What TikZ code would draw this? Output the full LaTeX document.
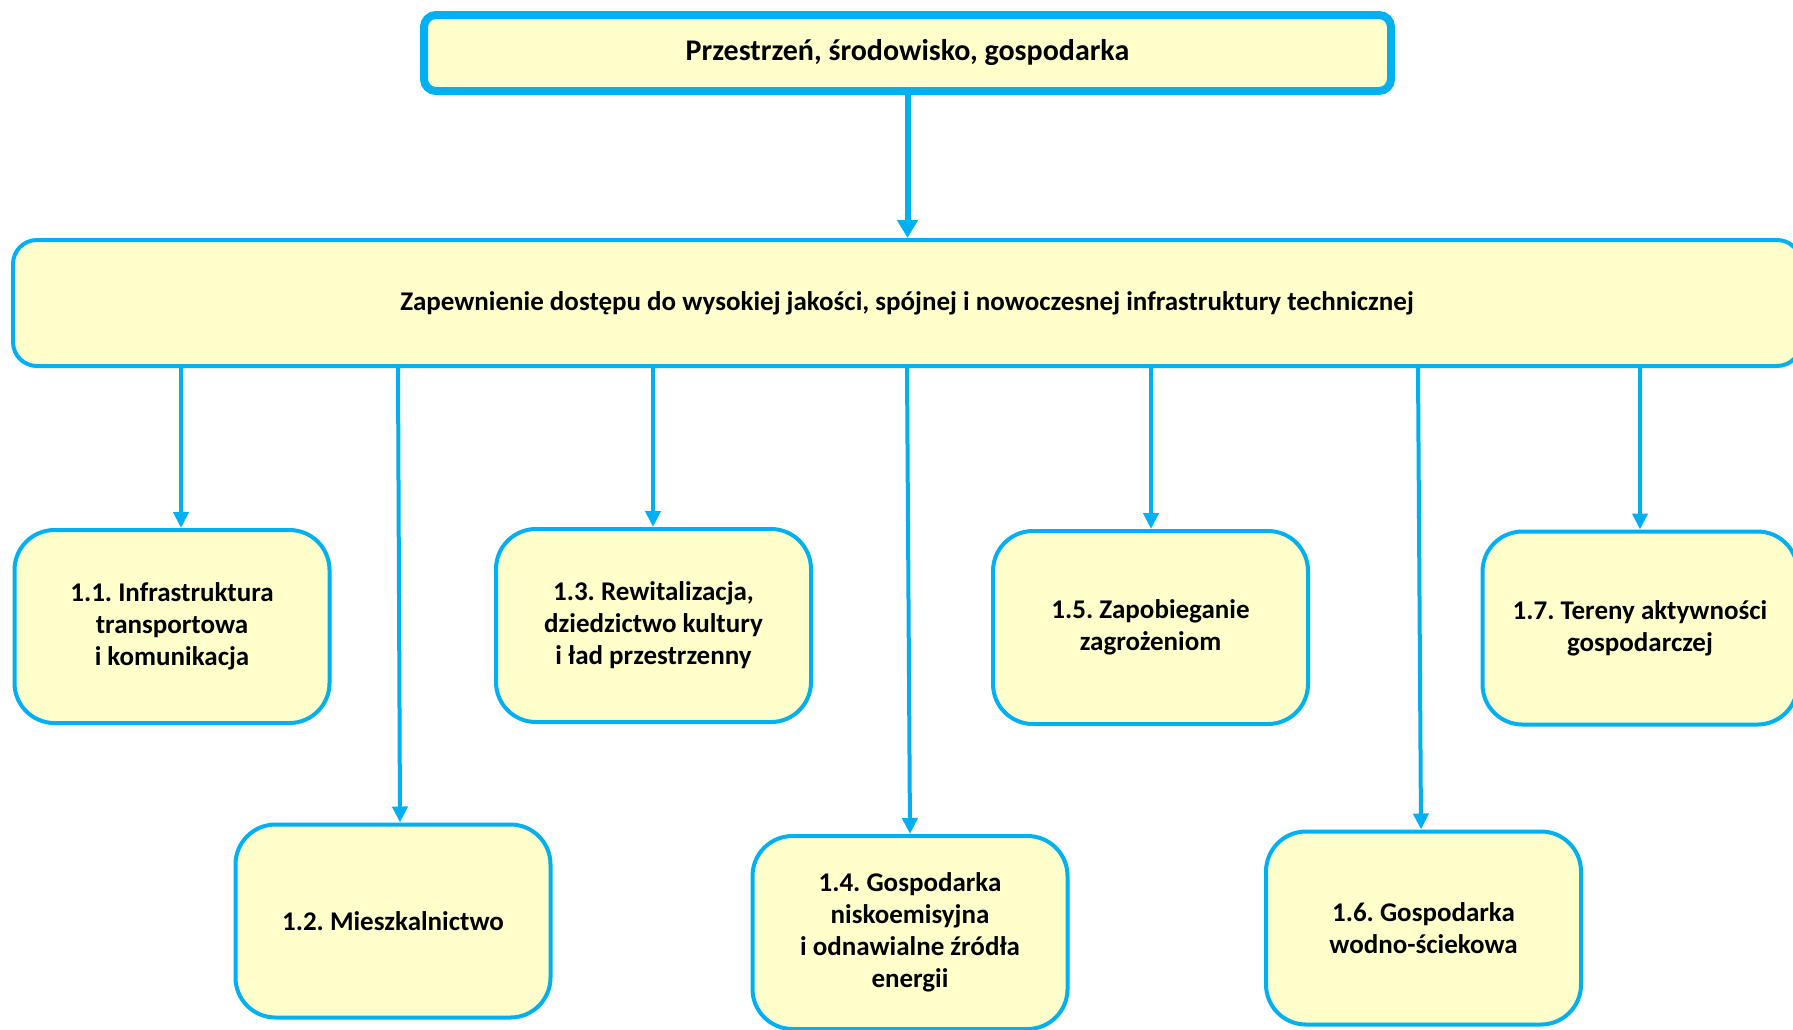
\documentclass[tikz,border=0pt]{standalone}
\usepackage{fontspec}
\setmainfont{Carlito}
\frenchspacing
\usetikzlibrary{arrows.meta}
\definecolor{ramka}{HTML}{00B0F0}
\definecolor{tlo}{HTML}{FFFFCC}
\tikzset{
  pole/.style={draw=ramka, fill=tlo, line width=2pt, rounded corners=20pt,
    minimum width=157.5pt, minimum height=96.5pt, inner sep=0pt, align=center,
    font=\bfseries\fontsize{13.5}{16}\selectfont},
  strz/.style={draw=ramka, line width=2pt, -{Triangle[width=7.5pt,length=8pt]}},
}
\begin{document}
\begin{tikzpicture}[x=0.5pt,y=-0.5pt]
\useasboundingbox (0,0) rectangle (1793,1029);
\clip (0,0) rectangle (1793,1029);
\node[pole, line width=4pt, rounded corners=6pt, minimum width=483.5pt, minimum height=38pt,
  font=\bfseries\fontsize{15}{18}\selectfont] (cel) at (907.5,53) {Przestrzeń, środowisko, gospodarka};
\node[pole, rounded corners=12pt, minimum width=894pt, minimum height=63pt] (priorytet) at (907,303)
  {Zapewnienie dostępu do wysokiej jakości, spójnej i nowoczesnej infrastruktury technicznej};
% kierunki dzialan
\node[pole] (k11) at (172,626.5) {1.1. Infrastruktura\\transportowa\\i komunikacja};
\node[pole] (k12) at (393,921) {1.2. Mieszkalnictwo};
\node[pole] (k13) at (653.5,625.5) {1.3. Rewitalizacja,\\dziedzictwo kultury\\i ład przestrzenny};
\node[pole] (k14) at (910,932.5) {1.4. Gospodarka\\niskoemisyjna\\i odnawialne źródła\\energii};
\node[pole] (k15) at (1150.5,627.5) {1.5. Zapobieganie\\zagrożeniom};
\node[pole] (k16) at (1423.5,928) {1.6. Gospodarka\\wodno-ściekowa};
\node[pole] (k17) at (1640,628) {1.7. Tereny aktywności\\gospodarczej};
\draw[strz, line width=3pt, -{Triangle[width=10pt,length=9pt]}] (cel.south) -- (cel.south |- priorytet.north);
\foreach \k/\xa/\xb in {k11/181/181, k12/398/400, k13/653/653, k14/907/910, k15/1151/1151, k16/1418/1421, k17/1640/1640}
  \draw[strz] (priorytet.south -| \xa,0) -- (\k.north -| \xb,0);
\end{tikzpicture}
\end{document}
